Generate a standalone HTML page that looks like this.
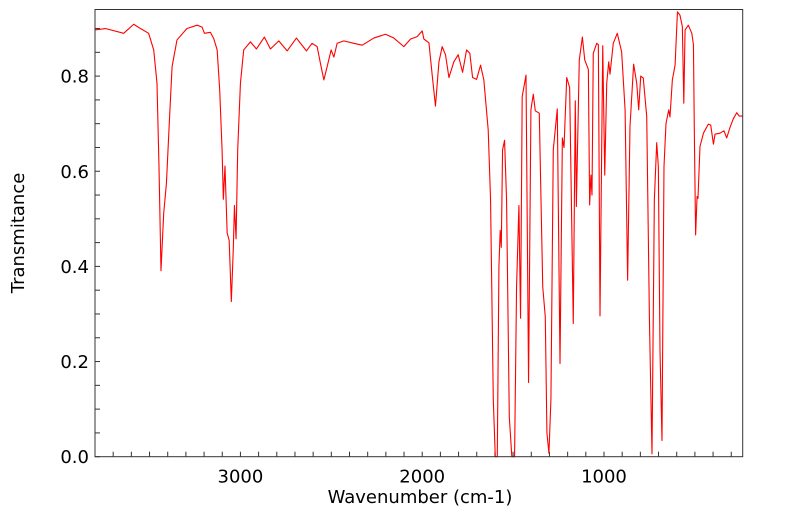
<!DOCTYPE html>
<html><head><meta charset="utf-8"><style>
html,body{margin:0;padding:0;background:#fff;}
svg text{font-family:"DejaVu Sans","Liberation Sans",sans-serif;fill:#000;}
</style></head><body>
<svg id="chart" width="799" height="516" xmlns="http://www.w3.org/2000/svg">
<rect width="799" height="516" fill="#fff"/>
<g id="axes"></g>
<path id="line" fill="none" stroke="#ff0000" stroke-width="1.1" stroke-linejoin="round"/>
<rect x="95" y="9.5" width="647.7" height="447.2" fill="none" stroke="#333" stroke-width="1"/>
<text x="420" y="503" font-size="18" text-anchor="middle">Wavenumber (cm-1)</text>
<text transform="translate(24,233) rotate(-90)" font-size="18" text-anchor="middle">Transmitance</text>
</svg>
<script>
const wavenumbers=[3800,3743,3642,3587,3550,3505,3477,3459,3448,3437,3422,3407,3394,3376,3349,3294,3238,3211,3198,3165,3147,3128,3114,3101,3094,3085,3073,3062,3050,3039,3033,3024,3015,3000,2982,2945,2912,2868,2835,2789,2743,2692,2637,2606,2578,2560,2541,2523,2501,2486,2468,2431,2376,2330,2266,2202,2156,2101,2064,2028,2000,1991,1963,1945,1927,1908,1890,1872,1853,1826,1802,1778,1756,1738,1723,1701,1679,1661,1637,1624,1609,1598,1587,1578,1571,1565,1558,1547,1536,1521,1507,1492,1481,1468,1459,1450,1429,1415,1402,1389,1378,1356,1337,1323,1314,1303,1292,1279,1257,1242,1229,1220,1205,1189,1169,1158,1152,1136,1119,1106,1086,1079,1072,1066,1059,1040,1031,1022,1007,996,985,974,967,949,927,903,884,870,857,837,820,809,798,784,765,750,736,723,710,701,692,681,670,659,644,637,624,609,596,582,569,561,554,536,517,508,503,496,488,483,472,453,426,413,398,389,362,340,325,307,289,270,256,237];
const transmittance=[.897,.900,.890,.909,.900,.890,.855,.785,.610,.391,.512,.575,.68,.82,.876,.90,.907,.903,.89,.892,.879,.855,.771,.645,.541,.611,.47,.455,.326,.44,.528,.458,.645,.785,.855,.872,.857,.882,.857,.874,.853,.880,.853,.869,.862,.827,.792,.82,.855,.84,.869,.874,.869,.865,.880,.888,.880,.862,.878,.883,.895,.878,.870,.802,.737,.830,.862,.845,.797,.830,.845,.808,.855,.848,.797,.793,.823,.792,.687,.54,.12,0,0,.40,.476,.44,.645,.665,.54,.084,0,0,.357,.528,.291,.757,.802,.156,.729,.762,.727,.722,.357,.294,.05,.007,.12,.645,.731,.196,.67,.65,.797,.776,.28,.748,.526,.834,.882,.834,.814,.529,.592,.55,.848,.869,.866,.296,.864,.592,.785,.830,.804,.869,.89,.851,.729,.371,.694,.825,.785,.729,.80,.796,.715,.287,.006,.54,.66,.61,.224,.034,.61,.70,.729,.714,.792,.823,.935,.928,.904,.743,.897,.907,.89,.866,.68,.466,.547,.543,.652,.68,.699,.697,.657,.678,.68,.685,.67,.692,.71,.723,.716,.716];
const xMajorTicks=[3000,2000,1000];
const xMinorTicks=[3700,3600,3500,3400,3300,3200,3100,2900,2800,2700,2600,2500,2400,2300,2200,2100,1900,1800,1700,1600,1500,1400,1300,1200,1100,900,800,700,600,500,400,300];
const yMajorTicks=[0,0.2,0.4,0.6,0.8];
const yMinorTicks=[0.05,0.1,0.15,0.25,0.3,0.35,0.45,0.5,0.55,0.65,0.7,0.75,0.85,0.9];
const xDomain=[3800,237], yDomain=[0,0.94];
const L=95,R=742.7,T=9.5,B=456.7;
const xs=v=>L+(v-xDomain[0])/(xDomain[1]-xDomain[0])*(R-L);
const ys=v=>B-(v-yDomain[0])/(yDomain[1]-yDomain[0])*(B-T);
const NS="http://www.w3.org/2000/svg";
const ax=document.getElementById('axes');
function ln(x1,y1,x2,y2,name){const l=document.createElementNS(NS,'line');
l.setAttribute('x1',x1);l.setAttribute('y1',y1);l.setAttribute('x2',x2);l.setAttribute('y2',y2);
l.setAttribute('stroke','#333');l.setAttribute('stroke-width','1');


ax.appendChild(l);}
function tx(x,y,s,anchor,name){const t=document.createElementNS(NS,'text');
t.setAttribute('x',x);t.setAttribute('y',y);t.setAttribute('font-size','18');t.setAttribute('text-anchor',anchor);t.textContent=s;


ax.appendChild(t);}
xMajorTicks.forEach(v=>{ln(xs(v),B,xs(v),B-5,'x-tick');tx(xs(v),B+26,String(v),'middle','x-tick-label');});
xMinorTicks.forEach(v=>{ln(xs(v),B,xs(v),B-5,'x-minor-tick');});
yMajorTicks.forEach(v=>{ln(L,ys(v),L+5,ys(v),'y-tick');tx(L-6,ys(v)+6.5,v.toFixed(1),'end','y-tick-label');});
yMinorTicks.forEach(v=>{ln(L,ys(v),L+5,ys(v),'y-minor-tick');});
let d='';wavenumbers.forEach((w,i)=>{d+=(i?'L':'M')+xs(w).toFixed(2)+','+ys(transmittance[i]).toFixed(2);});
document.getElementById('line').setAttribute('d',d);
</script>
</body></html>
